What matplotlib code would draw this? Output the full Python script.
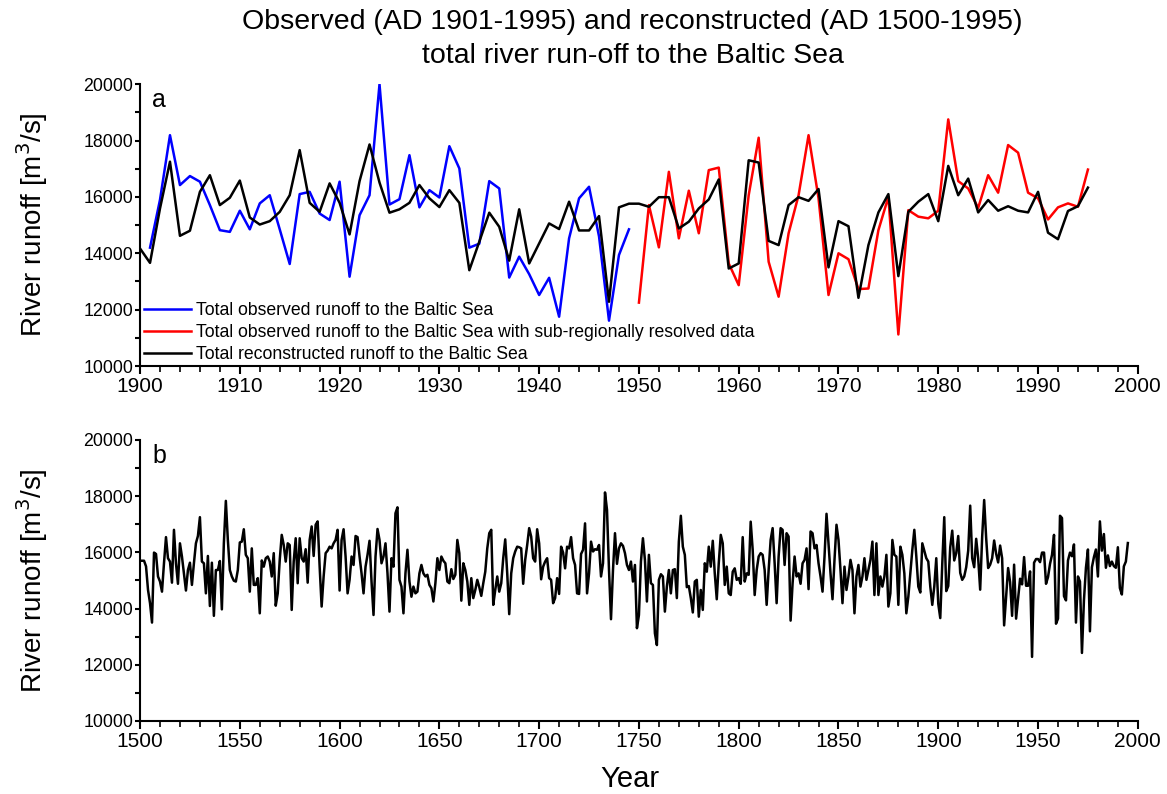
import matplotlib
matplotlib.use("Agg")
import matplotlib.pyplot as plt
import numpy as np
from matplotlib.ticker import MultipleLocator

plt.rcParams['font.family'] = ['Liberation Sans', 'DejaVu Sans']

# observed runoff 1901-1949 (blue)
obs_years = list(range(1901, 1950))
obs_total = [14200, 15900, 18190, 16420, 16740, 16540, 15710, 14820, 14760, 15510,
             14850, 15770, 16060, 14850, 13620, 16100, 16180, 15410, 15180, 16540,
             13170, 15350, 16060, 20000, 15730, 15920, 17480, 15630, 16240, 15980,
             17800, 17010, 14200, 14340, 16560, 16300, 13140, 13880, 13260, 12520,
             13130, 11750, 14530, 15950, 16360, 14600, 11610, 13940, 14850]

# observed runoff with sub-regional data 1950-1995 (red)
sub_years = list(range(1950, 1996))
obs_subreg = [12250, 15710, 14210, 16890, 14530, 16220, 14710, 16950, 17040, 13640,
              12870, 16060, 18100, 13700, 12460, 14710, 16060, 18190, 15950, 12520,
              14000, 13790, 12730, 12750, 14820, 16000, 11120, 15530, 15300, 15240,
              15510, 18750, 16560, 16300, 15610, 16770, 16150, 17840, 17570, 16150,
              15950, 15200, 15630, 15770, 15650, 16970]

# reconstructed runoff 1900-1995 (black, panel a)
rec_years_a = list(range(1900, 1996))
recon_1900_1995 = [14170, 13660, 15590, 17250, 14620, 14800, 16180, 16770, 15710, 15970,
                   16580, 15270, 15020, 15140, 15470, 16060, 17660, 15790, 15470, 16480,
                   15790, 14670, 16560, 17860, 16510, 15440, 15560, 15790, 16420, 15950,
                   15640, 16240, 15790, 13400, 14410, 15440, 14940, 13740, 15560, 13640,
                   14350, 15060, 14860, 15830, 14810, 14810, 15320, 12280, 15630, 15760,
                   15760, 15650, 15990, 15990, 14880, 15120, 15590, 15910, 16620, 13460,
                   13640, 17300, 17220, 14440, 14290, 15710, 15990, 15860, 16280, 13500,
                   15140, 14960, 12420, 14290, 15450, 16100, 13190, 15470, 15830, 16100,
                   15140, 17100, 16060, 16650, 15450, 15890, 15510, 15670, 15510, 15450,
                   16180, 14730, 14500, 15500, 15670, 16330]

# reconstructed runoff 1500-1899 (panel b)
recon_1500_1899 = [
    15700, 15700, 15700, 15500, 14660, 14190, 13500, 15990, 15940, 15140,
    14960, 14600, 15610, 16540, 15790, 15670, 14920, 16800, 15610, 14880,
    16320, 15850, 15250, 14640, 15370, 15630, 14840, 15610, 16320, 16580,
    17250, 15670, 15610, 14540, 15870, 14090, 15630, 13740, 15370, 15370,
    15690, 13970, 16320, 17830, 16440, 15370, 15140, 14990, 14960, 15370,
    16350, 16380, 16820, 15910, 15790, 14600, 16140, 14840, 14840, 15080,
    13830, 15710, 15490, 15790, 15850, 15670, 15140, 15970, 14100, 14540,
    15730, 16620, 16260, 15670, 16320, 16260, 13950, 15670, 16500, 14900,
    16500, 15790, 15670, 16110, 14920, 16440, 16920, 15870, 16980, 17100,
    15490, 14070, 15140, 15970, 16060, 16200, 16140, 16320, 16440, 16800,
    14640, 16440, 16820, 15850, 14540, 15020, 15850, 15550, 16580, 16540,
    15850, 15250, 14540, 15490, 15910, 16410, 14960, 13770, 15850, 16830,
    16440, 15610, 15850, 16320, 15250, 13890, 15790, 15490, 17390, 17600,
    15020, 14780, 13830, 15250, 16090, 14960, 14420, 14780, 14540, 14600,
    15250, 15550, 15250, 15140, 15200, 14840, 14720, 14250, 14900, 15790,
    15370, 15850, 15700, 15610, 14960, 14900, 15400, 15050, 15200, 16440,
    15970, 14280, 15610, 15370, 14960, 14130, 15080, 14370, 14660, 15020,
    14760, 14450, 14900, 15310, 16140, 16680, 16800, 14130, 14660, 15140,
    14600, 14900, 15790, 16460, 15250, 13800, 15250, 15790, 16030, 16200,
    16180, 16140, 14880, 15730, 16260, 16860, 16560, 15790, 15670, 16820,
    16320, 15040, 15490, 15670, 15790, 15080, 15020, 14190, 14370, 15080,
    14520, 16200, 15990, 15430, 16200, 16140, 16540, 15790, 15550, 14540,
    14520, 15940, 16090, 17030, 14540, 15250, 16380, 16030, 16110, 16090,
    16260, 15140, 15610, 18130, 17510, 15370, 13620, 15370, 16680, 15590,
    16140, 16320, 16230, 15970, 15550, 15370, 15670, 14960, 15550, 13300,
    13770, 15670, 16500, 15730, 14250, 15910, 14900, 14840, 13120, 12700,
    15020, 15220, 15140, 13890, 14780, 15370, 14540, 15370, 15400, 14370,
    16380, 17300, 16200, 15910, 14760, 14800, 14370, 13860, 14960, 15020,
    13710, 14660, 13950, 15610, 15310, 16200, 15490, 16410, 15250, 14330,
    15610, 16620, 16320, 14840, 15490, 14540, 14480, 15310, 15430, 15020,
    15080, 14880, 16540, 14960, 15250, 15200, 17090, 16090, 14480, 15370,
    15850, 15970, 15910, 15370, 14130, 15370, 16440, 16860, 15610, 14190,
    15850, 16860, 16800, 15550, 16680, 16560, 13570, 14900, 15850, 15140,
    15250, 14880, 15610, 15730, 16140, 14690, 16740, 16680, 16140, 16260,
    15610, 15140, 14600, 15850, 17370, 16320, 15250, 14330, 15730, 16980,
    16440, 15370, 14190, 15490, 14660, 15140, 15730, 15370, 13830, 15140,
    15550, 14780, 15140, 15790, 15020, 15370, 15730, 16380, 14480, 16320,
    14480, 15140, 14780, 15140, 15910, 14070, 14540, 16440, 15910, 15850,
    14130, 16200, 15910, 15250, 13830, 14420, 15250, 16090, 16800, 15850,
    14780, 14570, 16320, 16060, 15790, 15670, 14780, 14130, 14780, 15790]

rec_years_b = list(range(1500, 1996))
recon_full = recon_1500_1899 + recon_1900_1995

fig = plt.figure(figsize=(11.67, 7.94), dpi=100)
ax1 = fig.add_axes([0.12, 0.539, 0.855, 0.355])
ax2 = fig.add_axes([0.12, 0.092, 0.855, 0.354])

lw = 1.8
ax1.plot(obs_years, obs_total, color='#0000ff', lw=lw, label='Total observed runoff to the Baltic Sea')
ax1.plot(sub_years, obs_subreg, color='#ff0000', lw=lw,
         label='Total observed runoff to the Baltic Sea with sub-regionally resolved data')
ax1.plot(rec_years_a, recon_1900_1995, color='black', lw=lw, label='Total reconstructed runoff to the Baltic Sea')
ax1.set_xlim(1900, 2000)
ax1.xaxis.set_major_locator(MultipleLocator(10))
ax1.xaxis.set_minor_locator(MultipleLocator(2))
leg = ax1.legend(loc='lower left', frameon=False, fontsize=12.7, handlelength=2.65,
                 handletextpad=0.3, labelspacing=0.28, borderaxespad=0.1,
                 borderpad=0.0, bbox_to_anchor=(0.002, 0.005))

ax2.plot(rec_years_b, recon_full, color='black', lw=lw)
ax2.set_xlim(1500, 2000)
ax2.xaxis.set_major_locator(MultipleLocator(50))
ax2.xaxis.set_minor_locator(MultipleLocator(10))
ax2.set_xlabel('Year', fontsize=21)
ax2.xaxis.set_label_coords(0.491, -0.155)

for ax, lab in [(ax1, 'a'), (ax2, 'b')]:
    ax.set_ylim(10000, 20000)
    ax.yaxis.set_major_locator(MultipleLocator(2000))
    ax.yaxis.set_minor_locator(MultipleLocator(1000))
    ax.spines['top'].set_visible(False)
    ax.spines['right'].set_visible(False)
    ax.spines['left'].set_linewidth(1.5)
    ax.spines['bottom'].set_linewidth(1.5)
    ax.tick_params(axis='x', which='major', direction='out', length=6, width=1.5,
                   labelsize=15, pad=2)
    ax.tick_params(axis='x', which='minor', direction='out', length=4, width=1.2)
    ax.tick_params(axis='y', which='both', direction='out', length=3.5, width=1.5,
                   labelsize=12.8, pad=1.5)
    ax.set_ylabel('River runoff [m$^3$/s]', fontsize=20)
    ax.yaxis.set_label_coords(-0.090, 0.5)
    ax.text(0.012, 0.985, lab, transform=ax.transAxes, fontsize=18, va='top', ha='left')

fig.text(0.542, 0.972, 'Observed (AD 1901-1995) and reconstructed (AD 1500-1995)',
         ha='center', va='center', fontsize=20.5)
fig.text(0.542, 0.930, 'total river run-off to the Baltic Sea',
         ha='center', va='center', fontsize=20.5)

fig.savefig('out.png', dpi=100)
